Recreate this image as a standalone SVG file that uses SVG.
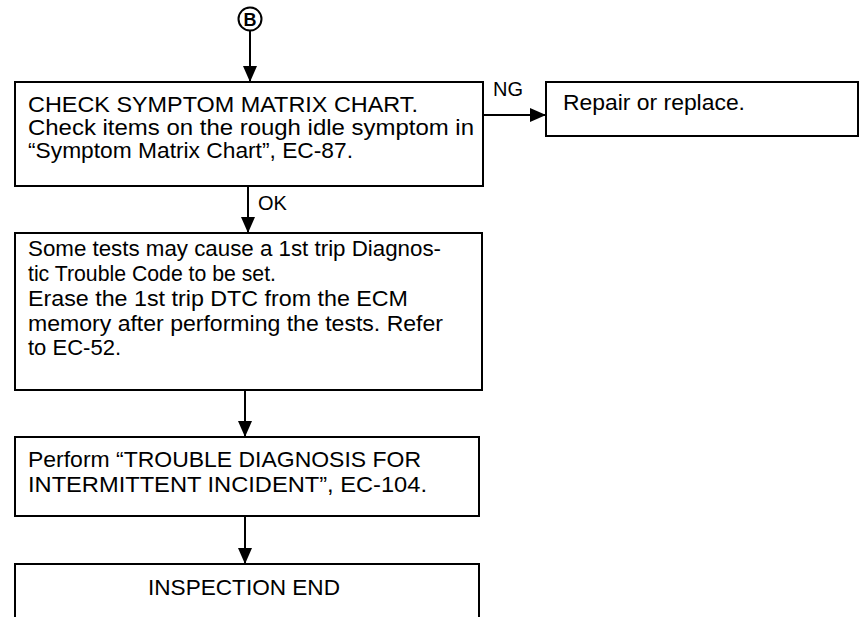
<svg xmlns="http://www.w3.org/2000/svg" width="859" height="617" viewBox="0 0 859 617">
  <style>
    .box { fill: #fff; stroke: #000; stroke-width: 2; }
    .t { font-family: "Liberation Sans", Arial, sans-serif; font-size: 22px; fill: #000; }
    .lbl { font-family: "Liberation Sans", Arial, sans-serif; font-size: 20px; fill: #000; }
    .wire { fill: none; stroke: #000; stroke-width: 2; }
  </style>
  <defs>
    <marker id="arrow" markerUnits="userSpaceOnUse" markerWidth="16" markerHeight="16" refX="16" refY="8" orient="auto">
      <path d="M0,1 L16,8 L0,15 Z" fill="#000"/>
    </marker>
  </defs>
  <rect width="859" height="617" fill="#fff"/>

  <!-- start connector -->
  <g id="start-b">
    <circle cx="250" cy="19" r="11.5" fill="#fff" stroke="#000" stroke-width="2"/>
    <text x="250" y="26" text-anchor="middle" font-family="Liberation Sans, Arial, sans-serif" font-size="18" font-weight="bold">B</text>
  </g>

  <g id="check-symptom">
    <rect class="box" x="15" y="82" width="468" height="104"/>
    <text class="t" x="28" y="112" textLength="390" lengthAdjust="spacingAndGlyphs">CHECK SYMPTOM MATRIX CHART.</text>
    <text class="t" x="28" y="135" textLength="446" lengthAdjust="spacingAndGlyphs">Check items on the rough idle symptom in</text>
    <text class="t" x="28" y="158" textLength="325" lengthAdjust="spacingAndGlyphs">“Symptom Matrix Chart”, EC-87.</text>
  </g>

  <g id="repair">
    <rect class="box" x="546" y="82" width="312" height="54"/>
    <text class="t" x="563" y="110" textLength="182" lengthAdjust="spacingAndGlyphs">Repair or replace.</text>
  </g>

  <g id="erase-dtc">
    <rect class="box" x="15" y="233" width="467" height="157"/>
    <text class="t" x="28" y="256" textLength="413" lengthAdjust="spacingAndGlyphs">Some tests may cause a 1st trip Diagnos-</text>
    <text class="t" x="28" y="281" textLength="248" lengthAdjust="spacingAndGlyphs">tic Trouble Code to be set.</text>
    <text class="t" x="28" y="306" textLength="380" lengthAdjust="spacingAndGlyphs">Erase the 1st trip DTC from the ECM</text>
    <text class="t" x="28" y="331" textLength="415" lengthAdjust="spacingAndGlyphs">memory after performing the tests. Refer</text>
    <text class="t" x="28" y="355" textLength="93" lengthAdjust="spacingAndGlyphs">to EC-52.</text>
  </g>

  <g id="intermittent">
    <rect class="box" x="15" y="437" width="464" height="79"/>
    <text class="t" x="28" y="467" textLength="393" lengthAdjust="spacingAndGlyphs">Perform “TROUBLE DIAGNOSIS FOR</text>
    <text class="t" x="28" y="492" textLength="399" lengthAdjust="spacingAndGlyphs">INTERMITTENT INCIDENT”, EC-104.</text>
  </g>

  <g id="inspection-end">
    <path class="wire" d="M15,630 V564 H479 V630"/>
    <text class="t" x="148" y="595" textLength="192" lengthAdjust="spacingAndGlyphs">INSPECTION END</text>
  </g>

  <g id="connectors">
    <line class="wire" x1="250" y1="31" x2="250" y2="82" marker-end="url(#arrow)"/>
    <line class="wire" x1="483" y1="115" x2="546" y2="115" marker-end="url(#arrow)"/>
    <text class="lbl" x="493" y="96">NG</text>
    <line class="wire" x1="248" y1="186" x2="248" y2="233" marker-end="url(#arrow)"/>
    <text class="lbl" x="258" y="210">OK</text>
    <line class="wire" x1="245" y1="390" x2="245" y2="437" marker-end="url(#arrow)"/>
    <line class="wire" x1="245" y1="516" x2="245" y2="564" marker-end="url(#arrow)"/>
  </g>
</svg>
